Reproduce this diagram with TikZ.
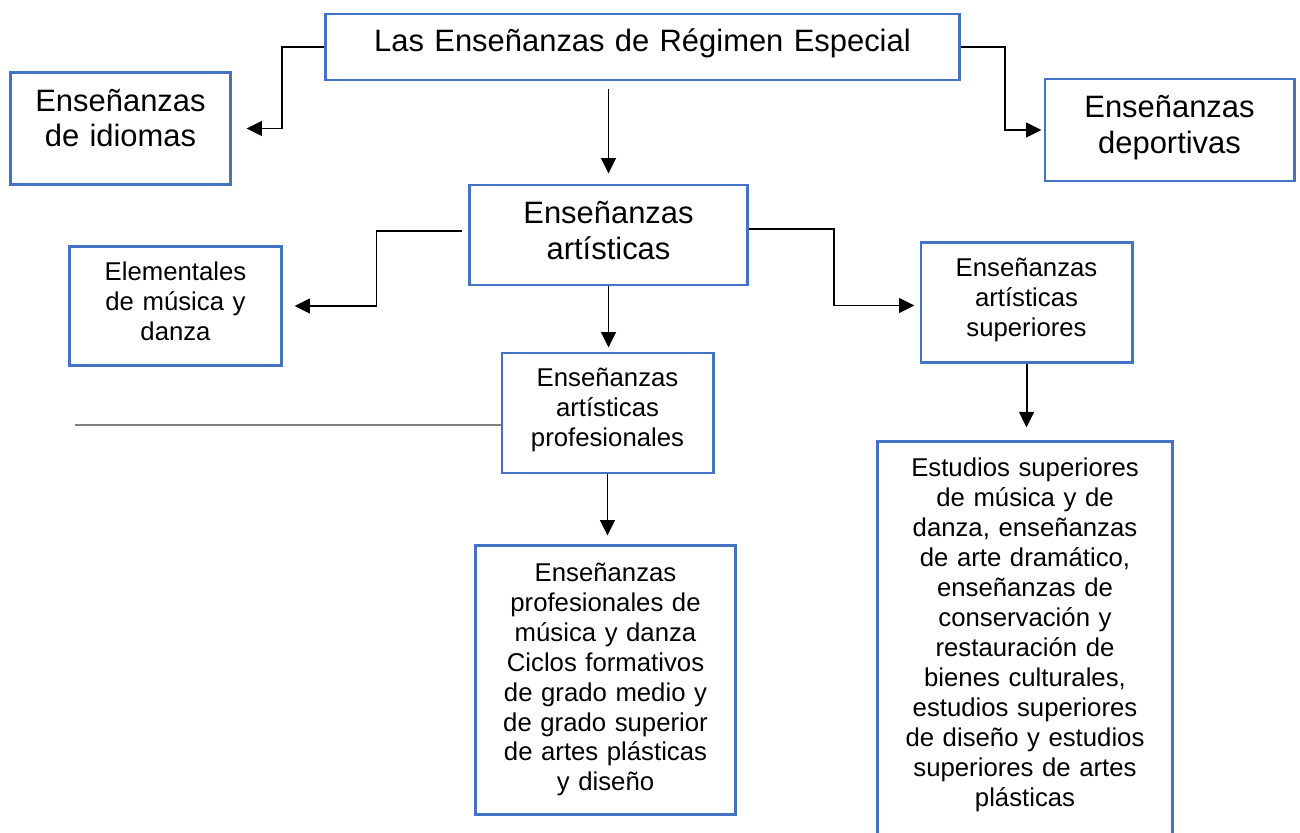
\documentclass[tikz,border=0pt]{standalone}
\usepackage{fontspec}
\setmainfont{Liberation Sans}
\usetikzlibrary{arrows.meta,calc}
\definecolor{boxblue}{RGB}{68,114,196}
\begin{document}
\begin{tikzpicture}[x=0.025cm,y=-0.025cm,
    boxline/.style={draw=boxblue,line width=2.1pt},
    box/.style 2 args={boxline,align=center,inner sep=0pt,text width=#1,minimum width=#1,minimum height=#2,text height=0pt},
    big/.style={font=\fontsize{22}{25.2}\selectfont},
    small/.style={font=\fontsize{18.3}{21.3}\selectfont},
    link/.style={line width=1.4pt,-{Triangle[length=11pt,width=10.5pt]}}]
    \useasboundingbox[fill=white] (0,0) rectangle (1300,833);
    \node[box={15.825cm}{1.65cm},big,text height=0.235cm,text depth=0pt] (top) at (642.5,47) {Las Enseñanzas de Régimen Especial};
    \node[box={5.475cm}{2.8cm},big,text depth=0.85cm] (idiomas) at (120.5,128.5) {Enseñanzas\\de idiomas};
    \node[box={6.225cm}{2.55cm},big,text depth=0.6cm] (deportivas) at (1169.5,130) {Enseñanzas\\deportivas};
    \node[box={6.925cm}{2.5cm},big,text depth=0.56cm] (artisticas) at (608.5,235) {Enseñanzas\\artísticas};
    \node[box={5.275cm}{2.99cm},small,text depth=1.285cm] (elementales) at (175.5,306) {Elementales\\de música y\\danza};
    \node[box={5.275cm}{3cm},small,text depth=1.275cm] (superiores) at (1026.5,302.5) {Enseñanzas\\artísticas\\superiores};
    \node[box={5.275cm}{3cm},small,text depth=1.3cm] (profesionales) at (607.5,413) {Enseñanzas\\artísticas\\profesionales};
    \node[box={6.475cm}{6.7cm},small,text depth=4.935cm] (ensprof) at (605.5,680) {Enseñanzas\\profesionales de\\música y danza\\Ciclos formativos\\de grado medio y\\de grado superior\\de artes plásticas\\y diseño};
    \node[box={7.3cm}{9.85cm},draw=none,small,text depth=8.15cm] (estudios) at (1025,640) {Estudios superiores\\de música y de\\danza, enseñanzas\\de arte dramático,\\enseñanzas de\\conservación y\\restauración de\\bienes culturales,\\estudios superiores\\de diseño y estudios\\superiores de artes\\plásticas};
    \draw[boxline] (estudios.north west) rectangle ($(estudios.south east)+(0,20)$);
    \coordinate (lineend) at (75,425);

    \draw[link] (top.west) -- ++(-42,0) |- ($(idiomas.east)+(15,0)$);
    \draw[link] (top.east) -- ++(44,0) |- ($(deportivas.west)+(-2,0)$);
    \draw[link,shorten <=5.7pt,shorten >=7.1pt] (top.south -| artisticas.north) -- (artisticas.north);
    \draw[link] ($(artisticas.west)+(-6,-4)$) -- ++(-86,0) |- ($(elementales.east)+(12,0)$);
    \draw[link] ($(artisticas.east)+(0,-6)$) -- ++(85,0) |- ($(superiores.west)+(-5,3)$);
    \draw[link,shorten >=2.8pt] (artisticas.south) -- (artisticas.south |- profesionales.north);
    \draw[link,shorten >=6.4pt] (profesionales.south) -- (profesionales.south |- ensprof.north);
    \draw[link,shorten >=10pt] (superiores.south) -- (superiores.south |- estudios.north);
    \draw[gray,line width=1.1pt] (lineend) -- (lineend -| profesionales.west);
\end{tikzpicture}
\end{document}
